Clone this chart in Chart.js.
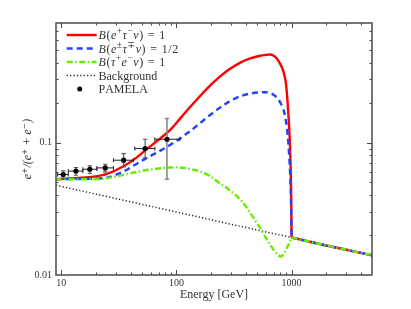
<!DOCTYPE html>
<html><head><meta charset="utf-8">
<script src="https://cdn.jsdelivr.net/npm/chart.js@4/dist/chart.umd.min.js"></script>
<style>html,body{margin:0;padding:0;background:#fff;}canvas{display:block;}</style>
</head><body>
<canvas id="c" width="411" height="309" style="width:411px;height:309px"></canvas>
<script>
const SERIF = "'Liberation Serif','DejaVu Serif','Times New Roman',serif";

// ---- data ----
const redEnergy = [9,12,15,20,25,35,45,54,70,88,110,131,160,195,240,290,360,431,520,600,650,700,750,800,836,870,895,923,945,965,985,995,1000];
const redRatio  = [0.0529,0.0535,0.0543,0.0556,0.0580,0.0665,0.0770,0.0878,0.105,0.124,0.155,0.185,0.224,0.268,0.316,0.359,0.402,0.430,0.451,0.460,0.462,0.452,0.428,0.390,0.360,0.318,0.279,0.205,0.150,0.105,0.060,0.035,0.0192];

const blueEnergy = [9,15,20,25,34,45,54,70,88,100,115,131,160,195,240,290,360,431,520,585,650,733,800,869,900,923,950,975,990,1000];
const blueRatio  = [0.0530,0.0532,0.0535,0.0544,0.0600,0.0690,0.0757,0.0855,0.0958,0.103,0.112,0.1216,0.140,0.161,0.184,0.205,0.224,0.234,0.239,0.240,0.237,0.222,0.200,0.166,0.140,0.117,0.085,0.055,0.035,0.0192];

const greenEnergy = [9,13,17,24,34,45,54,70,88,100,115,131,160,195,240,290,350,404,460,526,580,641,700,757,809,850,894,950,1000];
const greenRatio  = [0.0530,0.0528,0.0528,0.0536,0.0568,0.0600,0.0618,0.0637,0.0649,0.0650,0.0645,0.0632,0.0605,0.0560,0.0491,0.0437,0.0380,0.0327,0.0276,0.0231,0.0200,0.0173,0.0155,0.0143,0.0138,0.0143,0.0155,0.0172,0.0192];

// common high-energy tail (all three signal curves coincide with background above 1 TeV)
const tailEnergy = [1000,2000,5000];
const tailRatio  = [0.0192,0.0167,0.0141];

const bgEnergy = [9,20,50,100,200,500,1000,2000,5000];
const bgRatio  = [0.0477,0.0408,0.0342,0.0299,0.0261,0.0219,0.0192,0.0167,0.0141];

const pamelaEnergy = [10.4,13.4,17.7,24.1,34.8,53.5,82.8];
const pamelaRatio  = [0.0574,0.0609,0.0629,0.0644,0.0736,0.0901,0.106];
const pamelaELow   = [9.3,11.5,15.4,20.4,28.4,43.5,65];
const pamelaEHigh  = [11.5,15.4,20.4,28.4,42.4,65,107];
const pamelaRLow   = [0.0536,0.0567,0.0584,0.0601,0.0655,0.0766,0.0529];
const pamelaRHigh  = [0.0611,0.0648,0.0667,0.0686,0.0826,0.106,0.152];

const xTickLabels = ['10','100','1000'];
const yTickLabels = ['0.01','0.1'];
const xTitle = 'Energy [GeV]';
const yTitle = 'e⁺/(e⁺ + e⁻)';
const legendNames = ['B(e^+τ^−ν) = 1','B(e^±τ^∓ν) = 1/2','B(τ^+e^−ν) = 1','Background','PAMELA'];

// ---- helpers ----
const pts = (xs, ys) => xs.map((x, i) => ({x, y: ys[i]}));
function logTicks(min, max) {
  const out = [];
  for (let d = Math.floor(Math.log10(min)); d <= Math.ceil(Math.log10(max)); d++) {
    for (let m = 1; m <= 9; m++) {
      const v = parseFloat((m * Math.pow(10, d)).toPrecision(6));
      if (v >= min - 1e-12 && v <= max + 1e-12) out.push(v);
    }
  }
  return out;
}
function labelFor(v, list) {
  for (const s of list) { const n = Number(s); if (Math.abs(n - v) / n < 1e-6) return s; }
  return '';
}
const isMajor = v => Math.abs(Math.log10(v) - Math.round(Math.log10(v))) < 1e-6;

const COLORS = {red:'#ff0000', blue:'#2142ff', green:'#66ee00', bg:'#222222'};
const DASH = {red: [], blue: [6, 4], green: [6, 2.5, 1.5, 2.5], bg: [1.2, 2.2]};

function drawRich(ctx, str, x, y, size, math) {
  let cx = x;
  for (let i = 0; i < str.length; i++) {
    let ch = str[i], sup = false;
    if (ch === '^') { sup = true; ch = str[++i]; }
    const italic = math && /[A-Za-zα-ω]/.test(ch);
    const fs = sup ? size * 0.78 : size;
    ctx.font = (italic ? 'italic ' : '') + fs + 'px ' + SERIF;
    ctx.fillText(ch, cx, sup ? y - size * 0.42 : y);
    cx += ctx.measureText(ch).width + (math ? 0.55 : 0) + (math && ch === ' ' ? 0.6 : 0);
  }
}

const decor = {
  id: 'decor',
  beforeDatasetDraw(chart, args) {
    const ds = chart.data.datasets[args.index];
    if (ds.label !== 'PAMELA') return;
    const ctx = chart.ctx, xs = chart.scales.x, ys = chart.scales.y;
    ctx.save();
    for (let i = 0; i < pamelaEnergy.length; i++) {
      const px = xs.getPixelForValue(pamelaEnergy[i]);
      const py = ys.getPixelForValue(pamelaRatio[i]);
      const x0 = xs.getPixelForValue(pamelaELow[i]), x1 = xs.getPixelForValue(pamelaEHigh[i]);
      const y0 = ys.getPixelForValue(pamelaRLow[i]), y1 = ys.getPixelForValue(pamelaRHigh[i]);
      ctx.strokeStyle = i === 6 ? '#8a8a8a' : '#555';
      ctx.lineWidth = i === 6 ? 1.6 : 1.1;
      ctx.beginPath();
      ctx.moveTo(px, y0); ctx.lineTo(px, y1);
      ctx.moveTo(px - 2.2, y0); ctx.lineTo(px + 2.2, y0);
      ctx.moveTo(px - 2.2, y1); ctx.lineTo(px + 2.2, y1);
      ctx.stroke();
      ctx.strokeStyle = '#222'; ctx.lineWidth = 1;
      ctx.beginPath();
      ctx.moveTo(x0, py); ctx.lineTo(x1, py);
      ctx.moveTo(x0, py - 2); ctx.lineTo(x0, py + 2);
      ctx.moveTo(x1, py - 2); ctx.lineTo(x1, py + 2);
      ctx.stroke();
    }
    ctx.restore();
  },
  afterDraw(chart) {
    const ctx = chart.ctx, a = chart.chartArea, xs = chart.scales.x, ys = chart.scales.y;
    ctx.save();
    ctx.strokeStyle = '#444'; ctx.lineWidth = 1;
    ctx.beginPath();
    xs.ticks.forEach(t => {
      const p = Math.round(xs.getPixelForValue(t.value)) + 0.5;
      if (p < a.left + 1 || p > a.right - 1) return;
      const L = isMajor(t.value) ? 5 : 2.5;
      ctx.moveTo(p, a.bottom); ctx.lineTo(p, a.bottom - L);
      ctx.moveTo(p, a.top); ctx.lineTo(p, a.top + L);
    });
    ys.ticks.forEach(t => {
      const p = Math.round(ys.getPixelForValue(t.value)) + 0.5;
      if (p < a.top + 1 || p > a.bottom - 1) return;
      const L = isMajor(t.value) ? 5 : 2.5;
      ctx.moveTo(a.left, p); ctx.lineTo(a.left + L, p);
      ctx.moveTo(a.right, p); ctx.lineTo(a.right - L, p);
    });
    ctx.stroke();
    ctx.strokeStyle = '#555'; ctx.lineWidth = 1.6;
    ctx.strokeRect(a.left, a.top, a.right - a.left, a.bottom - a.top);
    // legend
    const lx0 = a.left + 10.7, lx1 = a.left + 40.7, tx = a.left + 42.5;
    const styles = [
      {c: COLORS.red, w: 2.4, d: DASH.red},
      {c: COLORS.blue, w: 2.4, d: DASH.blue},
      {c: COLORS.green, w: 2.4, d: DASH.green},
      {c: COLORS.bg, w: 1.5, d: DASH.bg},
      null
    ];
    ctx.textBaseline = 'alphabetic'; ctx.textAlign = 'left';
    legendNames.forEach((name, i) => {
      const y = a.top + 12 + 13.5 * i;
      const s = styles[i];
      if (s) {
        ctx.save();
        ctx.strokeStyle = s.c; ctx.lineWidth = s.w; ctx.setLineDash(s.d); ctx.lineCap = 'butt';
        ctx.beginPath(); ctx.moveTo(lx0, y); ctx.lineTo(lx1, y); ctx.stroke();
        ctx.restore();
      } else {
        ctx.beginPath(); ctx.fillStyle = '#000';
        ctx.arc((lx0 + lx1) / 2 - 2, y, 2.5, 0, Math.PI * 2); ctx.fill();
      }
      ctx.fillStyle = '#333';
      drawRich(ctx, name, tx, y + 4.3, 12, i < 3);
    });
    ctx.restore();
  }
};

const lineDs = (label, xs, ys, key, width, order, smooth) => ({
  label, data: pts(xs, ys), borderColor: COLORS[key], borderWidth: width, borderDash: DASH[key],
  pointRadius: 0, fill: false, order, borderCapStyle: 'butt',
  cubicInterpolationMode: smooth ? 'monotone' : 'default', tension: 0
});

new Chart(document.getElementById('c'), {
  type: 'line',
  data: {
    datasets: [
      lineDs('Background', bgEnergy, bgRatio, 'bg', 1.5, 9, false),
      lineDs(legendNames[0], redEnergy, redRatio, 'red', 2.4, 8, true),
      lineDs(legendNames[0] + ' tail', tailEnergy, tailRatio, 'red', 2.4, 7, false),
      lineDs(legendNames[1], blueEnergy, blueRatio, 'blue', 2.4, 6, true),
      lineDs(legendNames[1] + ' tail', tailEnergy, tailRatio, 'blue', 2.4, 5, false),
      lineDs(legendNames[2], greenEnergy, greenRatio, 'green', 2.4, 4, true),
      lineDs(legendNames[2] + ' tail', tailEnergy, tailRatio, 'green', 2.4, 3, false),
      { label: 'PAMELA', data: pts(pamelaEnergy, pamelaRatio), showLine: false,
        pointRadius: 2.6, pointBackgroundColor: '#000', pointBorderColor: '#000', pointBorderWidth: 0, order: 1 }
    ]
  },
  options: {
    responsive: false, animation: false, events: [],
    layout: { padding: { top: 23, right: 39, left: 0, bottom: 0 } },
    plugins: { legend: { display: false }, tooltip: { enabled: false } },
    scales: {
      x: {
        type: 'logarithmic', min: 9, max: 5000,
        afterBuildTicks: s => { s.ticks = logTicks(9, 5000).map(v => ({value: v})); },
        afterFit: s => { s.height = 34; },
        grid: { display: false, drawTicks: false }, border: { display: false },
        ticks: { autoSkip: false, maxRotation: 0, padding: 2, color: '#333',
          font: { family: SERIF, size: 10 }, callback: v => labelFor(v, xTickLabels) },
        title: { display: true, text: xTitle, color: '#333', font: { family: SERIF, size: 12 },
          padding: { top: 0, bottom: 7 } }
      },
      y: {
        type: 'logarithmic', min: 0.01, max: 0.8,
        afterBuildTicks: s => { s.ticks = logTicks(0.01, 0.8).map(v => ({value: v})); },
        afterFit: s => { s.width = 56; },
        grid: { display: false, drawTicks: false }, border: { display: false },
        ticks: { autoSkip: false, padding: 4, color: '#333',
          font: { family: SERIF, size: 10 }, callback: v => labelFor(v, yTickLabels) },
        title: { display: true, text: yTitle, color: '#333',
          font: { family: SERIF, size: 12, style: 'italic' }, padding: { top: 21, bottom: 0 } }
      }
    }
  },
  plugins: [decor]
});
</script>
</body></html>
